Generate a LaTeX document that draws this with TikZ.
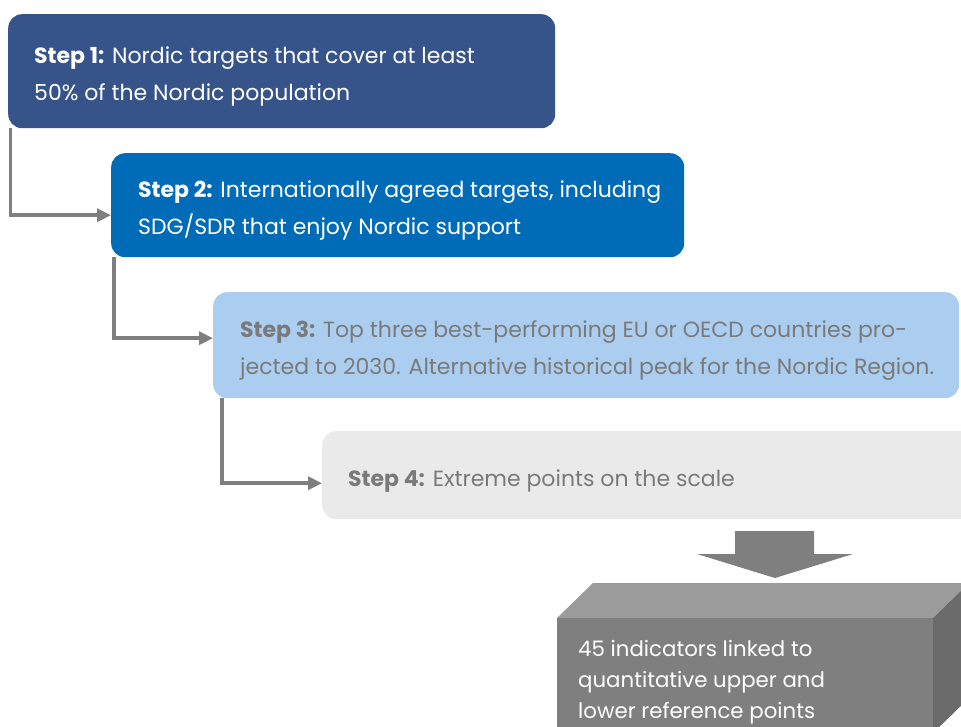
\documentclass[tikz,border=0pt]{standalone}
\usepackage{fontspec}
\setmainfont{Poppins}
\usetikzlibrary{calc,arrows.meta}
\definecolor{cone}{HTML}{36538A}
\definecolor{ctwo}{HTML}{006BB6}
\definecolor{cthree}{HTML}{ABCDEF}
\definecolor{cfour}{HTML}{EAEAEA}
\definecolor{cgray}{HTML}{7F7F7F}
\definecolor{ctxt}{HTML}{7A7A7A}
\definecolor{ctop}{HTML}{9B9B9B}
\definecolor{cside}{HTML}{6B6B6B}
\tikzset{
  stepbox/.style={rounded corners=14pt, anchor=north west, inner sep=0pt},
  steptext/.style={anchor=west, align=left, inner sep=0pt, font=\fontsize{22}{37}\selectfont},
  conn/.style={draw=cgray, line width=3.5pt, -{Triangle[length=14pt,width=13pt]}},
}
\begin{document}
\begin{tikzpicture}[x=1pt,y=-1pt]
\useasboundingbox (0,0) rectangle (961,727);
\clip (0,0) rectangle (961,727);
\node[stepbox, fill=cone, minimum width=547pt, minimum height=114pt] (s1) at (8,14) {};
\node[steptext, text=white] (t1) at ([xshift=26pt,yshift=-5pt]s1.west)
  {\textbf{Step 1:} Nordic targets that cover at least\\50\% of the Nordic population};
\node[stepbox, fill=ctwo, minimum width=573pt, minimum height=104pt] (s2) at (111,153) {};
\node[steptext, text=white] (t2) at ([xshift=27pt,yshift=-5pt]s2.west)
  {\textbf{Step 2:} Internationally agreed targets, including\\SDG/SDR that enjoy Nordic support};
\node[stepbox, fill=cthree, minimum width=746pt, minimum height=106pt] (s3) at (213,292) {};
\node[steptext, text=ctxt] (t3) at ([xshift=27pt,yshift=-5pt]s3.west)
  {\textbf{Step 3:} Top three best-performing EU or OECD countries pro-\\jected to 2030. Alternative historical peak for the Nordic Region.};
\node[stepbox, fill=cfour, minimum width=660pt, minimum height=88pt] (s4) at (322,431) {};
\node[steptext, text=ctxt] (t4) at ([xshift=26pt,yshift=-6pt]s4.west)
  {\textbf{Step 4:} Extreme points on the scale};
\draw[conn] ([xshift=2.5pt]s1.south west) |- ([yshift=-10pt]s2.west);
\draw[conn] ([xshift=3pt]s2.south west) |- ([yshift=7pt]s3.west);
\draw[conn] ([xshift=9pt]s3.south west) |- ([yshift=-8pt]s4.west);
% block arrow
\fill[cgray] (735,531) -- (814,531) -- (814,554) -- (853,554) -- (775,578) -- (697,554) -- (735,554) -- cycle;
% 3D box
\fill[ctop] (557,618) -- (593,583) -- (969,583) -- (933,618) -- cycle;
\fill[cside] (933,618) -- (969,583) -- (969,698) -- (933,733) -- cycle;
\node[fill=cgray, anchor=north west, minimum width=376pt, minimum height=115pt, inner sep=0pt] (res) at (557,618) {};
\node[anchor=north west, align=left, text=white, inner sep=0pt, font=\fontsize{21.3}{31}\selectfont] (restxt) at (578,640)
  {45 indicators linked to\\quantitative upper and\\lower reference points};
\end{tikzpicture}
\end{document}
